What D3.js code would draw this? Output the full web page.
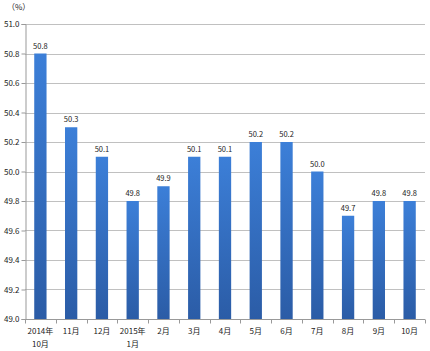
<!DOCTYPE html>
<html>
<head>
<meta charset="utf-8">
<script src="https://cdn.jsdelivr.net/npm/d3@7"></script>
<style>
  body { margin: 0; background: #fff; }
  text { font-family: "Noto Sans CJK JP", "Noto Sans", sans-serif; fill: #222; }
</style>
</head>
<body>
<svg id="chart" width="430" height="351"></svg>
<script>
const categories = [
  ['2014年', '10月'], ['11月'], ['12月'], ['2015年', '1月'], ['2月'], ['3月'],
  ['4月'], ['5月'], ['6月'], ['7月'], ['8月'], ['9月'], ['10月']
];
const values = [50.8, 50.3, 50.1, 49.8, 49.9, 50.1, 50.1, 50.2, 50.2, 50.0, 49.7, 49.8, 49.8];
const yTicks = [49.0, 49.2, 49.4, 49.6, 49.8, 50.0, 50.2, 50.4, 50.6, 50.8, 51.0];

const margin = { top: 24, right: 5, bottom: 32, left: 25 };
const width = 430 - margin.left - margin.right;
const height = 351 - margin.top - margin.bottom;

const svg = d3.select('#chart');

const defs = svg.append('defs');
const grad = defs.append('linearGradient')
  .attr('id', 'barGrad')
  .attr('x1', 0).attr('y1', 0).attr('x2', 0).attr('y2', 1);
grad.append('stop').attr('offset', '0%').attr('stop-color', '#3c7fd8');
grad.append('stop').attr('offset', '100%').attr('stop-color', '#2b5ca6');

const g = svg.append('g').attr('transform', `translate(${margin.left},${margin.top})`);

const x = d3.scaleBand()
  .domain(d3.range(categories.length))
  .range([0, width])
  .paddingInner(0.6)
  .paddingOuter(0.3);

const y = d3.scaleLinear().domain([49.0, 51.0]).range([height, 0]);

// gridlines
g.append('g')
  .selectAll('line')
  .data(yTicks.slice(1))
  .join('line')
  .attr('x1', 0).attr('x2', width)
  .attr('y1', d => Math.round(y(d)) + 0.5)
  .attr('y2', d => Math.round(y(d)) + 0.5)
  .attr('stroke', '#c0c0c0');

// y axis
const yAxis = g.append('g')
  .attr('transform', 'translate(0.5,0)')
  .call(d3.axisLeft(y).tickValues(yTicks).tickFormat(d3.format('.1f')).tickSize(4));
yAxis.select('.domain').attr('stroke', '#999');
yAxis.selectAll('.tick line').attr('stroke', '#999');
yAxis.selectAll('.tick text')
  .attr('font-size', 8)
  .attr('x', -6);

// bars
g.selectAll('rect.bar')
  .data(values)
  .join('rect')
  .attr('class', 'bar')
  .attr('x', (d, i) => x(i))
  .attr('width', x.bandwidth())
  .attr('y', d => y(d))
  .attr('height', d => height - y(d))
  .attr('fill', 'url(#barGrad)');

// value labels
g.selectAll('text.val')
  .data(values)
  .join('text')
  .attr('class', 'val')
  .attr('x', (d, i) => x(i) + x.bandwidth() / 2)
  .attr('y', d => y(d) - 5)
  .attr('text-anchor', 'middle')
  .attr('font-size', 7.5)
  .text(d => d3.format('.1f')(d));

// x axis
const step = x.step();
const xAxis = g.append('g').attr('transform', `translate(0,${height + 0.5})`);
xAxis.append('line')
  .attr('x1', 0).attr('x2', width)
  .attr('stroke', '#999');
xAxis.selectAll('line.tick')
  .data(d3.range(categories.length + 1))
  .join('line')
  .attr('class', 'tick')
  .attr('x1', i => Math.round(i * step) + 0.5)
  .attr('x2', i => Math.round(i * step) + 0.5)
  .attr('y1', 0).attr('y2', 4)
  .attr('stroke', '#999');

const labels = xAxis.selectAll('text.cat')
  .data(categories)
  .join('text')
  .attr('class', 'cat')
  .attr('text-anchor', 'middle')
  .attr('font-size', 8)
  .attr('transform', (d, i) => `translate(${x(i) + x.bandwidth() / 2},0)`);
labels.selectAll('tspan')
  .data(d => d)
  .join('tspan')
  .attr('x', 0)
  .attr('y', (d, i) => 14 + i * 13)
  .text(d => d);

// unit label
svg.append('text')
  .attr('x', 7).attr('y', 10)
  .attr('font-size', 8)
  .text('（%）');
</script>
</body>
</html>
